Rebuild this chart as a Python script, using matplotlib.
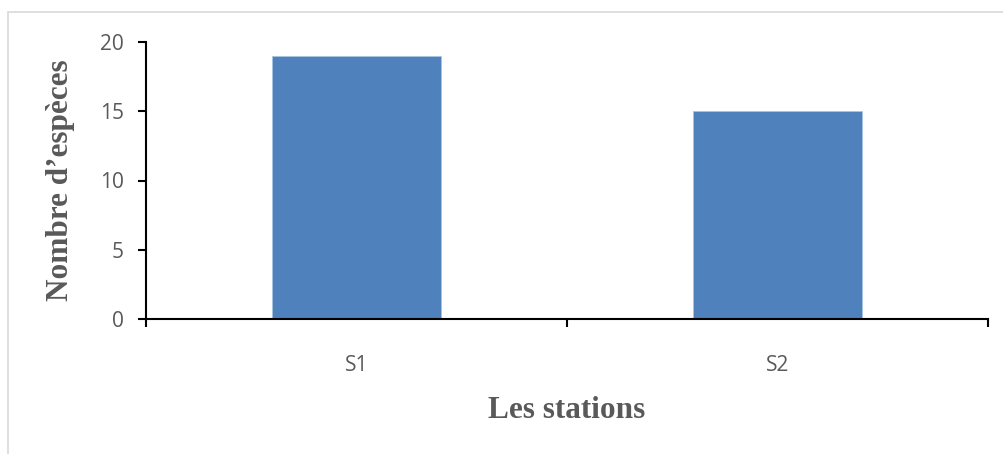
import matplotlib
matplotlib.use("Agg")
import matplotlib.pyplot as plt
from matplotlib.patches import Rectangle

# data
stations = ["S1", "S2"]
nb_especes = [19, 15]
y_ticks = [0, 5, 10, 15, 20]

grey_txt = "#595959"
bar_color = "#4F81BD"

fig = plt.figure(figsize=(10.04, 4.54), dpi=100)
fig.patch.set_facecolor("white")

# light frame around the chart area (only top and left visible)
fig.patches.append(Rectangle((8 / 1004, -0.1), 1.2, 1.1 - 12 / 454,
                             transform=fig.transFigure, fill=False,
                             edgecolor="#D9D9D9", linewidth=1.2))

ax = fig.add_axes([146 / 1004, 1 - 319 / 454, 842 / 1004, 277 / 454])
x = range(len(stations))
ax.bar(x, nb_especes, width=0.4, color=bar_color, edgecolor="#A9C3E3",
       linewidth=0.6, zorder=2)

ax.set_xlim(-0.5, len(stations) - 0.5)
ax.set_ylim(0, 20)

for side in ["top", "right"]:
    ax.spines[side].set_visible(False)
ax.spines["left"].set_linewidth(1.5)
ax.spines["bottom"].set_linewidth(1.5)
ax.spines["left"].set_color("black")
ax.spines["bottom"].set_color("black")

ax.set_yticks(y_ticks)
ax.set_yticklabels([str(v) for v in y_ticks])
ax.tick_params(axis="y", direction="out", length=6, width=1.5,
               color="black", pad=10, labelcolor=grey_txt, labelsize=15)

ax.set_xticks(list(x))
ax.set_xticklabels(stations)
ax.set_xticks([-0.5, 0.5, 1.5], minor=True)
ax.tick_params(axis="x", which="major", length=0, pad=26,
               labelcolor=grey_txt, labelsize=15)
ax.tick_params(axis="x", which="minor", direction="out", length=6,
               width=1.5, color="black")
ax.tick_params(axis="y", which="minor", length=0)

for lab in ax.get_xticklabels() + ax.get_yticklabels():
    lab.set_fontfamily("Open Sans")

fig.text(61 / 1004, 1 - 180 / 454, "Nombre d\u2019esp\u00e8ces", rotation=90,
         ha="center", va="center", fontsize=22.5, fontweight="bold",
         family="Liberation Serif", color=grey_txt)
fig.text(567 / 1004, 1 - 411 / 454, "Les stations", ha="center",
         va="center", fontsize=22.5, fontweight="bold",
         family="Liberation Serif", color=grey_txt)

fig.savefig("out.png", dpi=100, facecolor="white")
